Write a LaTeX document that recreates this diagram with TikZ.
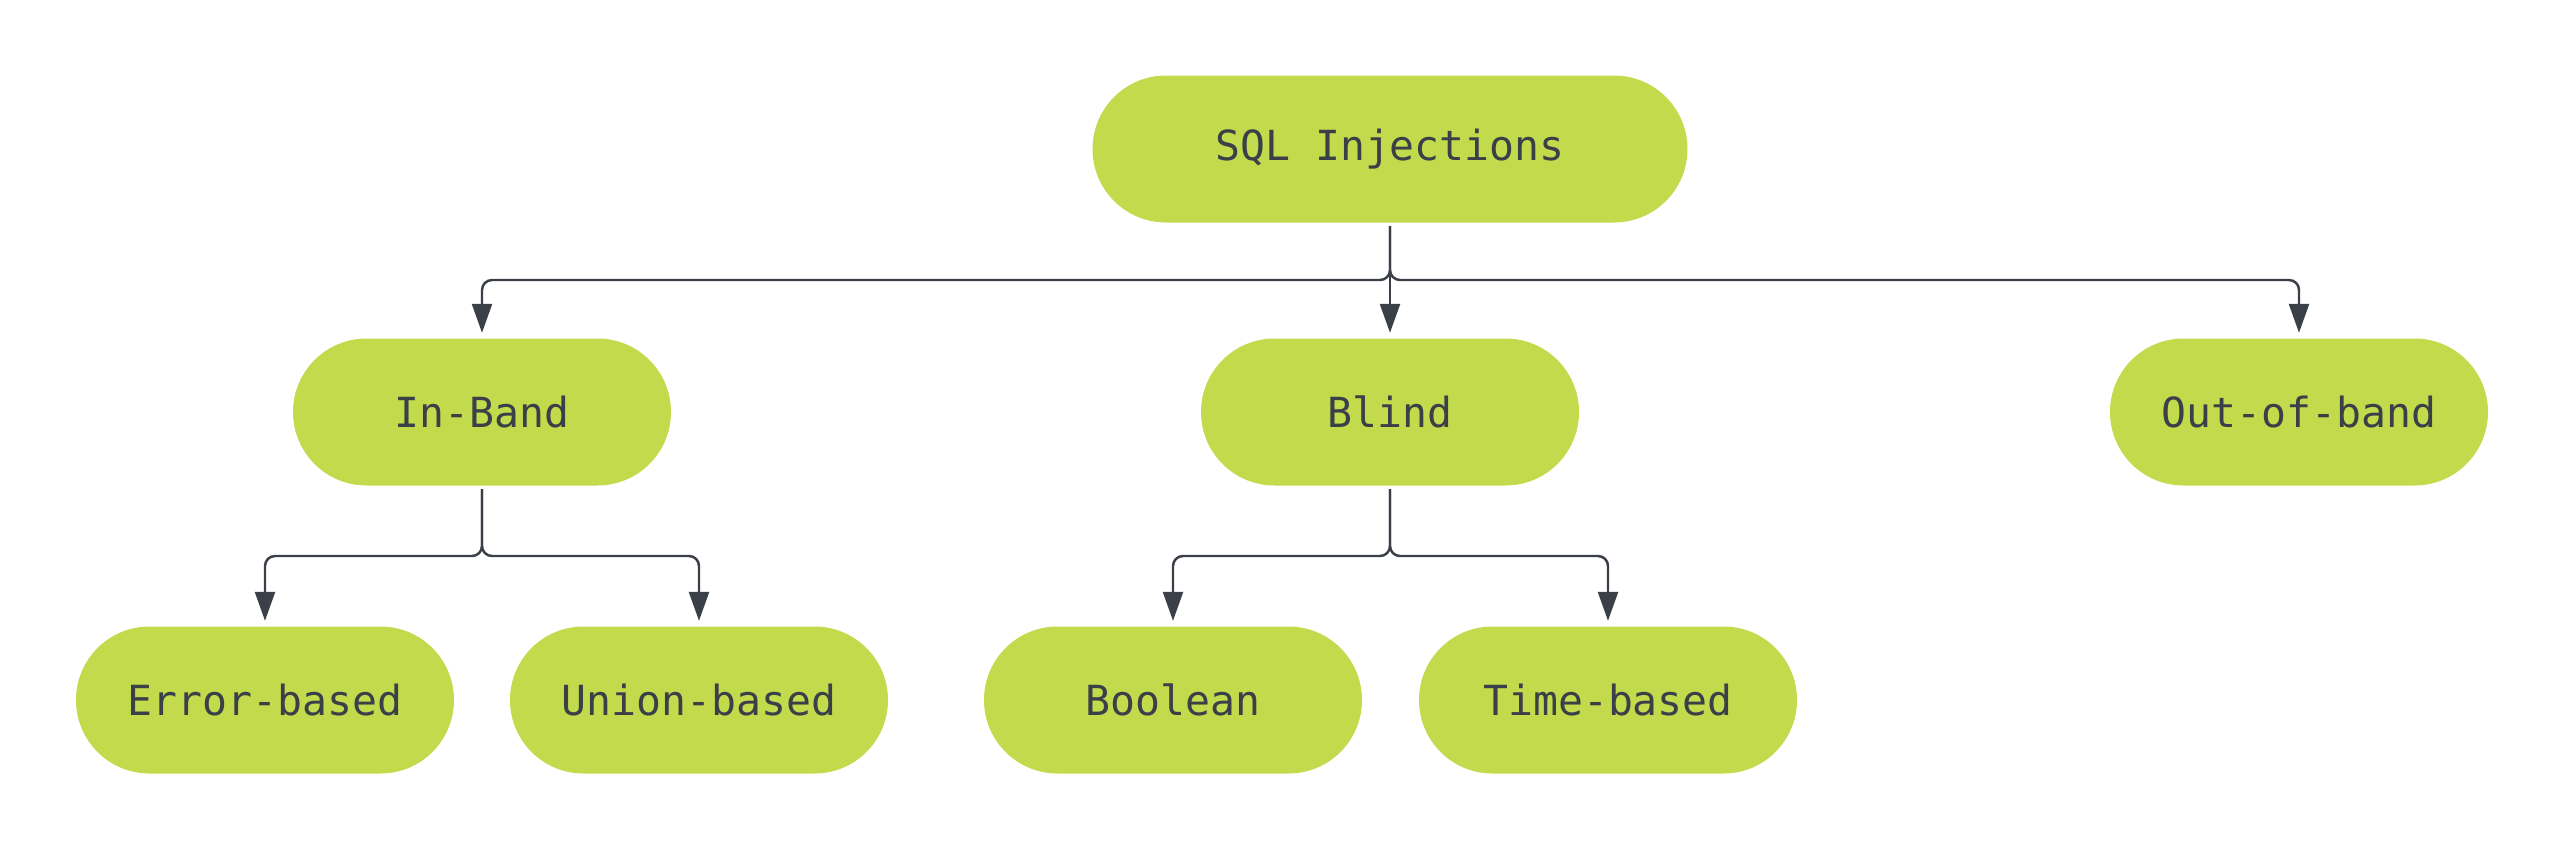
\documentclass[tikz,border=0pt]{standalone}
\usepackage{fontspec}
\setmonofont{DejaVu Sans Mono}
\usetikzlibrary{arrows.meta}
\definecolor{leaf}{HTML}{C3DA4C}
\definecolor{ink}{HTML}{3A3F48}
\begin{document}
\begin{tikzpicture}[
    pill/.style={fill=leaf, text=ink, minimum width=3.78cm, minimum height=1.47cm,
        rounded corners=7.35mm, font=\ttfamily\fontsize{11.8}{14}\selectfont},
    link/.style={draw=ink, line width=0.7pt, rounded corners=1mm,
        -{Triangle[length=2.9mm,width=2mm]}, shorten <=0.3mm, shorten >=0.5mm}
]
    \useasboundingbox (0,0) rectangle (25.65,-8.51);

    \node[pill, minimum width=5.95cm] (sqli) at (13.90,-1.49) {SQL Injections};

    \node[pill] (inband) at (4.82,-4.12) {In-Band};
    \node[pill] (blind) at (13.90,-4.12) {Blind};
    \node[pill] (oob) at (22.99,-4.12) {Out-of-band};

    \node[pill] (error) at (2.65,-7.00) {Error-based};
    \node[pill] (union) at (6.99,-7.00) {Union-based};
    \node[pill] (bool) at (11.73,-7.00) {Boolean};
    \node[pill] (time) at (16.08,-7.00) {Time-based};

    \coordinate (busa) at (0,-2.80);
    \coordinate (busb) at (0,-5.56);

    \draw[link] (sqli.south) -- (sqli.south |- busa) -| (inband.north);
    \draw[link] (sqli.south) -- (blind.north);
    \draw[link] (sqli.south) -- (sqli.south |- busa) -| (oob.north);

    \draw[link] (inband.south) -- (inband.south |- busb) -| (error.north);
    \draw[link] (inband.south) -- (inband.south |- busb) -| (union.north);

    \draw[link] (blind.south) -- (blind.south |- busb) -| (bool.north);
    \draw[link] (blind.south) -- (blind.south |- busb) -| (time.north);
\end{tikzpicture}
\end{document}
